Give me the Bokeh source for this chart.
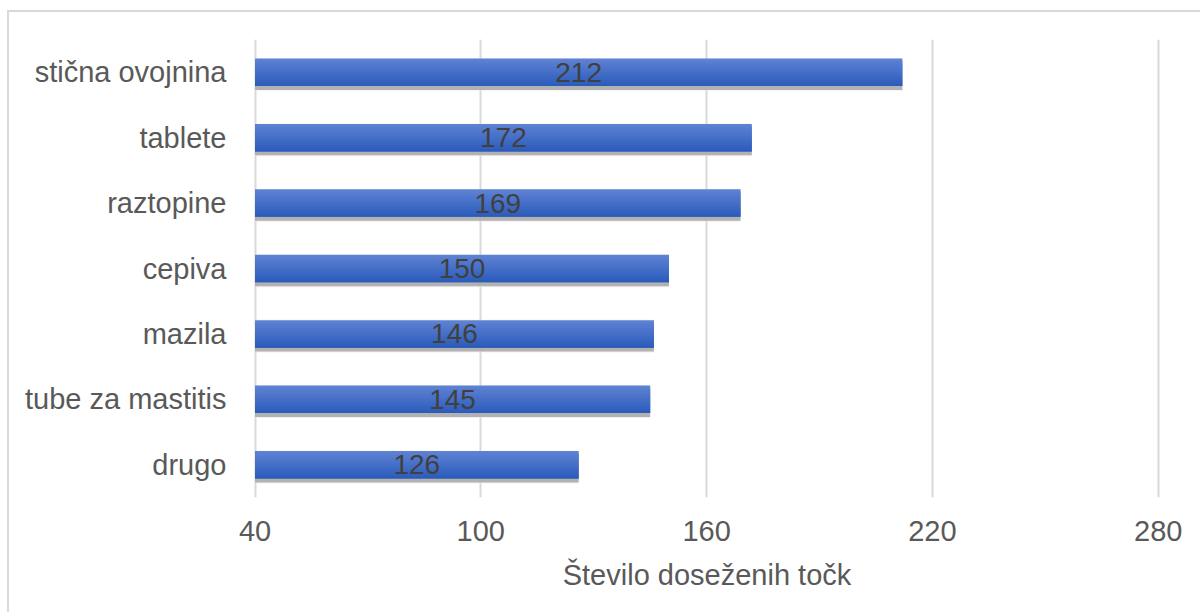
from bokeh.plotting import figure
from bokeh.models import ColumnDataSource, FixedTicker, Range1d, LabelSet
from bokeh.core.properties import value
from bokeh.transform import dodge
from bokeh.embed import file_html
from bokeh.resources import INLINE

# Data
categories = ["stična ovojnina", "tablete", "raztopine", "cepiva", "mazila",
              "tube za mastitis", "drugo"]
points = [212, 172, 169, 150, 146, 145, 126]
x_ticks = [40, 100, 160, 220, 280]
x_title = "Število doseženih točk"

BASE = 40
FONT = "Liberation Sans"

factors = list(reversed(categories))
src = ColumnDataSource(dict(
    cat=categories,
    val=points,
    left=[BASE] * len(points),
    mid=[(BASE + v) / 2 for v in points],
    lab=[str(v) for v in points],
))

p = figure(
    width=1193, height=602,
    y_range=factors, x_range=Range1d(BASE - 0.4, 280.6),
    output_backend="svg", toolbar_location=None,
    min_border_left=244, min_border_right=42,
    min_border_top=27, min_border_bottom=117,
)
p.styles = {
    "margin-left": "7px", "margin-top": "10px",
    "border-left": "2px solid #d9d9d9", "border-top": "2px solid #d9d9d9",
}
p.outline_line_color = None
p.background_fill_color = "white"
p.border_fill_color = "white"

# grid
p.ygrid.grid_line_color = None
p.xgrid.grid_line_color = "#d9d9d9"
p.xgrid.grid_line_width = 2
p.xgrid.ticker = FixedTicker(ticks=x_ticks)

# axes
p.xaxis.ticker = FixedTicker(ticks=x_ticks)
for ax in (p.xaxis[0], p.yaxis[0]):
    ax.axis_line_color = None
    ax.major_tick_line_color = None
    ax.minor_tick_line_color = None
    ax.major_label_text_font = FONT
    ax.major_label_text_font_size = "29px"
    ax.major_label_text_color = "#595959"
p.yaxis.major_label_standoff = 21
p.xaxis.major_label_standoff = 17
p.xaxis.axis_label = x_title
p.xaxis.axis_label_text_font = FONT
p.xaxis.axis_label_text_font_size = "29px"
p.xaxis.axis_label_text_font_style = "normal"
p.xaxis.axis_label_text_color = "#595959"
p.xaxis.axis_label_standoff = 15

H = 0.42
# soft halo and drop shadow
p.hbar(y=dodge("cat", -0.035, range=p.y_range), left="left", right="val",
       height=H + 0.08, source=src, fill_color="#ebebeb", line_color=None, alpha=0.7)
p.hbar(y=dodge("cat", -0.06, range=p.y_range), left="left", right="val",
       height=H, source=src, fill_color="#a3a3a3", line_color=None, alpha=0.8)

# bar body with vertical gradient drawn as overlapping strips
top_rgb = (0x5e, 0x82, 0xd3)
bot_rgb = (0x2c, 0x5c, 0xbb)
n = 14
for i in range(n):
    t = i / (n - 1)
    c = tuple(int(round(a + (b - a) * t)) for a, b in zip(top_rgb, bot_rgb))
    col = "#%02x%02x%02x" % c
    hs = H / n
    if i < n - 1:
        off = H / 2 - i * hs - hs  # strip extends one step further down
        hh = 2 * hs
    else:
        off = H / 2 - (i + 0.5) * hs
        hh = hs
    p.hbar(y=dodge("cat", off, range=p.y_range), left="left", right="val",
           height=hh, source=src, fill_color=col, line_color=None)

labels = LabelSet(x="mid", y="cat", text="lab", source=src,
                  text_align="center", text_baseline="middle",
                  text_font=value(FONT), text_font_size=value("28px"),
                  text_color="#404040")
p.add_layout(labels)

open("out.html", "w").write(file_html(p, INLINE))
